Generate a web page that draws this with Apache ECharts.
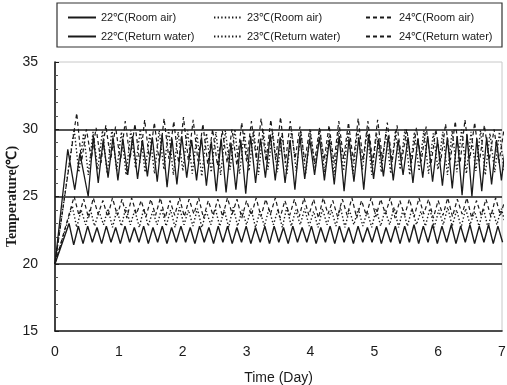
<!DOCTYPE html>
<html>
<head>
<meta charset="utf-8">
<script src="https://cdn.jsdelivr.net/npm/echarts@6/dist/echarts.min.js"></script>
<style>
  html, body { margin: 0; padding: 0; background: #fff; }
  #chart { width: 507px; height: 385px; }
</style>
</head>
<body>
<div id="chart"></div>
<script>
// x ticks (day) and y ticks (deg C)
const xTicks = [0, 1, 2, 3, 4, 5, 6, 7];
const yTicks = [15, 20, 25, 30, 35];
const refLines = [20, 25, 30];

// each curve: start-up points read off the picture, then the peak/trough
// values of the zigzag read on a regular time step (t0, half period)

// 22C room air - solid, lower band
const room22Start = [[0, 20.0]];
const room22T0 = 0.22, room22Half = 0.073;
const room22 = [
  23.0, 21.4, 22.8, 21.5, 22.8, 21.6, 22.7, 21.5, 22.8, 21.6,
  22.7, 21.5, 22.8, 21.6, 22.7, 21.6, 22.8, 21.5, 22.7, 21.6,
  22.8, 21.5, 22.7, 21.6, 22.8, 21.6, 22.7, 21.5, 22.8, 21.6,
  22.7, 21.5, 22.8, 21.6, 22.8, 21.5, 22.7, 21.6, 22.8, 21.5,
  22.7, 21.6, 22.8, 21.5, 22.8, 21.6, 22.7, 21.5, 22.8, 21.6,
  22.7, 21.6, 22.8, 21.5, 22.7, 21.6, 22.8, 21.5, 22.8, 21.6,
  22.7, 21.5, 22.8, 21.6, 22.7, 21.6, 22.8, 21.5, 22.7, 21.6,
  22.8, 21.5, 22.8, 21.6, 22.9, 21.5, 22.8, 21.6, 22.9, 21.5,
  22.8, 21.6, 22.9, 21.5, 22.8, 21.6, 22.9, 21.5, 22.8, 21.6,
  22.9, 21.5, 22.8, 21.6
];

// 23C room air - dotted, middle band
const room23Start = [[0, 20.0]];
const room23T0 = 0.27, room23Half = 0.07;
const room23 = [
  24.3, 22.7, 24.0, 22.9, 24.1, 22.8, 23.9, 22.9, 24.1, 22.7,
  24.0, 22.8, 24.2, 22.9, 24.0, 22.7, 24.1, 22.8, 23.9, 22.9,
  24.1, 22.8, 24.0, 22.7, 24.2, 22.9, 24.0, 22.8, 24.1, 22.7,
  23.9, 22.9, 24.1, 22.8, 24.0, 22.7, 24.2, 22.8, 24.0, 22.9,
  24.1, 22.7, 23.9, 22.8, 24.1, 22.9, 24.0, 22.7, 24.2, 22.8,
  24.0, 22.9, 24.1, 22.8, 23.9, 22.7, 24.1, 22.9, 24.0, 22.8,
  24.2, 22.7, 24.0, 22.9, 24.1, 22.8, 23.9, 22.7, 24.1, 22.8,
  24.0, 22.9, 24.2, 22.7, 24.0, 22.8, 24.1, 22.9, 23.9, 22.8,
  24.1, 22.7, 24.0, 22.9, 24.2, 22.8, 24.0, 22.7, 24.1, 22.9,
  23.9, 22.8, 24.1, 22.7, 24.0, 22.9, 24.1, 22.8
];

// 24C room air - dashed, middle band
const room24Start = [[0, 20.0]];
const room24T0 = 0.30, room24Half = 0.075;
const room24 = [
  25.0, 23.6, 24.8, 23.4, 24.9, 23.7, 24.7, 23.5, 24.9, 23.6,
  24.8, 23.4, 24.9, 23.7, 24.7, 23.5, 24.8, 23.6, 24.9, 23.4,
  24.7, 23.6, 24.9, 23.5, 24.8, 23.7, 24.9, 23.4, 24.7, 23.6,
  24.8, 23.5, 24.9, 23.7, 24.8, 23.4, 24.7, 23.6, 24.9, 23.5,
  24.8, 23.7, 24.9, 23.4, 24.7, 23.6, 24.8, 23.5, 24.9, 23.6,
  24.8, 23.4, 24.9, 23.7, 24.7, 23.5, 24.8, 23.6, 24.9, 23.4,
  24.7, 23.6, 24.9, 23.5, 24.8, 23.7, 24.9, 23.4, 24.7, 23.6,
  24.8, 23.5, 24.9, 23.7, 24.8, 23.4, 24.7, 23.6, 24.9, 23.5,
  24.8, 23.7, 24.9, 23.4, 24.7, 23.6, 24.8, 23.5, 24.9, 23.6,
  24.8
];

// 22C return water - solid, upper band
const water22Start = [[0, 20.0], [0.20, 28.5], [0.31, 25.5], [0.39, 28.2], [0.52, 25.0]];
const water22T0 = 0.60, water22Half = 0.077;
const water22 = [
  29.5, 26.0, 29.2, 26.4, 29.4, 26.2, 29.3, 26.6, 29.5, 26.3,
  29.2, 26.5, 29.4, 26.1, 29.6, 25.7, 29.3, 25.9, 29.5, 26.4,
  29.2, 26.2, 29.4, 25.8, 29.1, 25.4, 29.3, 25.3, 29.0, 25.5,
  29.2, 25.2, 29.5, 26.0, 29.3, 26.4, 29.6, 26.2, 29.4, 26.0,
  29.2, 25.5, 29.5, 26.3, 29.3, 26.6, 29.4, 26.2, 29.2, 25.9,
  29.5, 25.4, 29.3, 26.1, 29.4, 25.5, 29.6, 26.3, 29.3, 26.5,
  29.5, 26.2, 29.2, 26.6, 29.4, 26.0, 29.3, 26.4, 29.5, 26.1,
  29.2, 25.8, 29.4, 25.6, 29.5, 25.1, 29.6, 25.0, 29.3, 25.4,
  29.4, 25.9, 29.2, 26.2, 29.3
];

// 23C return water - dotted, upper band
const water23Start = [[0, 20.0]];
const water23T0 = 0.30, water23Half = 0.074;
const water23 = [
  30.0, 26.8, 29.7, 26.6, 29.8, 27.0, 29.9, 26.7, 30.0, 26.9,
  29.8, 26.6, 29.9, 27.1, 30.0, 26.8, 29.7, 26.7, 29.9, 27.0,
  30.0, 26.6, 29.8, 26.9, 29.9, 26.7, 29.6, 26.5, 29.7, 26.8,
  29.8, 26.6, 29.9, 27.0, 30.0, 26.7, 29.8, 26.9, 29.9, 26.6,
  30.0, 27.0, 29.8, 26.8, 29.7, 26.6, 29.9, 26.9, 29.8, 26.7,
  29.9, 27.1, 30.0, 26.8, 29.7, 26.6, 29.9, 26.9, 29.8, 26.7,
  30.0, 27.0, 29.9, 26.6, 29.7, 26.8, 29.8, 26.7, 29.9, 27.0,
  30.0, 26.6, 29.8, 26.9, 29.9, 26.7, 29.7, 27.0, 29.8, 26.6,
  29.9, 26.8, 30.0, 26.7, 29.8, 26.9, 29.9, 26.6, 29.7, 26.8,
  29.8, 26.9
];

// 24C return water - dashed, upper band
const water24Start = [[0, 20.0]];
const water24T0 = 0.34, water24Half = 0.076;
const water24 = [
  31.2, 27.6, 30.0, 27.8, 30.1, 27.5, 30.3, 27.7, 30.2, 27.6,
  30.6, 27.8, 30.4, 27.5, 30.7, 27.7, 30.5, 27.6, 30.8, 27.8,
  30.6, 27.5, 30.9, 27.7, 30.7, 27.6, 30.4, 27.4, 30.0, 27.3,
  29.9, 27.5, 30.0, 27.3, 30.5, 27.6, 30.6, 27.8, 30.8, 27.6,
  30.7, 27.7, 30.9, 27.5, 30.6, 27.8, 30.2, 27.6, 30.0, 27.5,
  30.1, 27.7, 30.3, 27.5, 30.6, 27.8, 30.5, 27.6, 30.8, 27.7,
  30.6, 27.5, 30.7, 27.8, 30.5, 27.6, 30.3, 27.7, 30.0, 27.5,
  30.1, 27.6, 30.2, 27.4, 30.0, 27.6, 30.4, 27.7, 30.6, 27.5,
  30.7, 27.8, 30.5, 27.6, 30.3, 27.7, 30.0, 27.5, 29.9
];

const names = [
  '22℃(Room air)', '23℃(Room air)', '24℃(Room air)',
  '22℃(Return water)', '23℃(Return water)', '24℃(Return water)'
];

function toPoints(start, t0, half, vals) {
  return start.concat(vals.map((v, i) => [t0 + i * half, v]));
}

const ink = '#1a1a1a';
const solid = 'solid';
const dotted = [1.4, 2.2];
const dashed = [4, 3];

function line(name, data, type, width) {
  return {
    name: name,
    type: 'line',
    data: data,
    symbol: 'none',
    clip: true,
    animation: false,
    lineStyle: { color: ink, width: width, type: type },
    itemStyle: { color: ink }
  };
}

const series = [
  line(names[0], toPoints(room22Start, room22T0, room22Half, room22), solid, 1.4),
  line(names[1], toPoints(room23Start, room23T0, room23Half, room23), dotted, 1.4),
  line(names[2], toPoints(room24Start, room24T0, room24Half, room24), dashed, 1.2),
  line(names[3], toPoints(water22Start, water22T0, water22Half, water22), solid, 1.3),
  line(names[4], toPoints(water23Start, water23T0, water23Half, water23), dotted, 1.4),
  line(names[5], toPoints(water24Start, water24T0, water24Half, water24), dashed, 1.2)
];

// horizontal reference lines at 20, 25, 30
series[0].markLine = {
  silent: true,
  symbol: 'none',
  label: { show: false },
  animation: false,
  lineStyle: { color: ink, width: 1.6, type: 'solid' },
  data: refLines.map(v => ({ yAxis: v }))
};

// legend: one component per entry so the columns line up like the box
const legendCols = [62, 208, 360];
const legendRows = [7, 26];
const legends = names.map((n, i) => ({
  data: [n],
  left: legendCols[i % 3],
  top: legendRows[Math.floor(i / 3)],
  itemWidth: 28,
  itemHeight: 8,
  selectedMode: false,
  itemStyle: { opacity: 0 },
  textStyle: { fontFamily: 'Liberation Sans', fontSize: 11, color: ink }
}));

const chart = echarts.init(document.getElementById('chart'));
chart.setOption({
  backgroundColor: '#fff',
  animation: false,
  legend: legends,
  graphic: [{
    type: 'rect',
    shape: { x: 57, y: 3, width: 445, height: 44 },
    style: { fill: 'none', stroke: '#333', lineWidth: 1.2 },
    silent: true
  }],
  grid: {
    left: 55, right: 5, top: 62, bottom: 54,
    containLabel: false,
    outerBoundsMode: 'none',
    show: true, borderColor: '#c8c8c8', borderWidth: 1
  },
  xAxis: {
    type: 'value',
    min: xTicks[0],
    max: xTicks[xTicks.length - 1],
    interval: 1,
    name: 'Time (Day)',
    nameLocation: 'middle',
    nameMoveOverlap: false,
    nameGap: 40,
    nameTextStyle: { fontFamily: 'Liberation Sans', fontSize: 14, color: ink },
    axisLine: { lineStyle: { color: ink, width: 1.6 } },
    axisTick: { show: false },
    splitLine: { show: false },
    axisLabel: { fontFamily: 'Liberation Sans', fontSize: 14, color: ink, margin: 14 }
  },
  yAxis: {
    type: 'value',
    min: yTicks[0],
    max: yTicks[yTicks.length - 1],
    interval: 5,
    name: 'Temperature(℃)',
    nameLocation: 'middle',
    nameMoveOverlap: false,
    nameRotate: 90,
    nameGap: 36,
    nameTextStyle: { fontFamily: 'Liberation Serif', fontSize: 14, fontWeight: 'bold', color: ink },
    axisLine: { lineStyle: { color: ink, width: 1.6 } },
    axisTick: { show: true, inside: true, length: 4, lineStyle: { color: ink } },
    minorTick: { show: true, splitNumber: 5, length: 3, lineStyle: { color: '#555' } },
    splitLine: { show: false },
    axisLabel: { fontFamily: 'Liberation Sans', fontSize: 14, color: ink, margin: 17 }
  },
  series: series
});
</script>
</body>
</html>
